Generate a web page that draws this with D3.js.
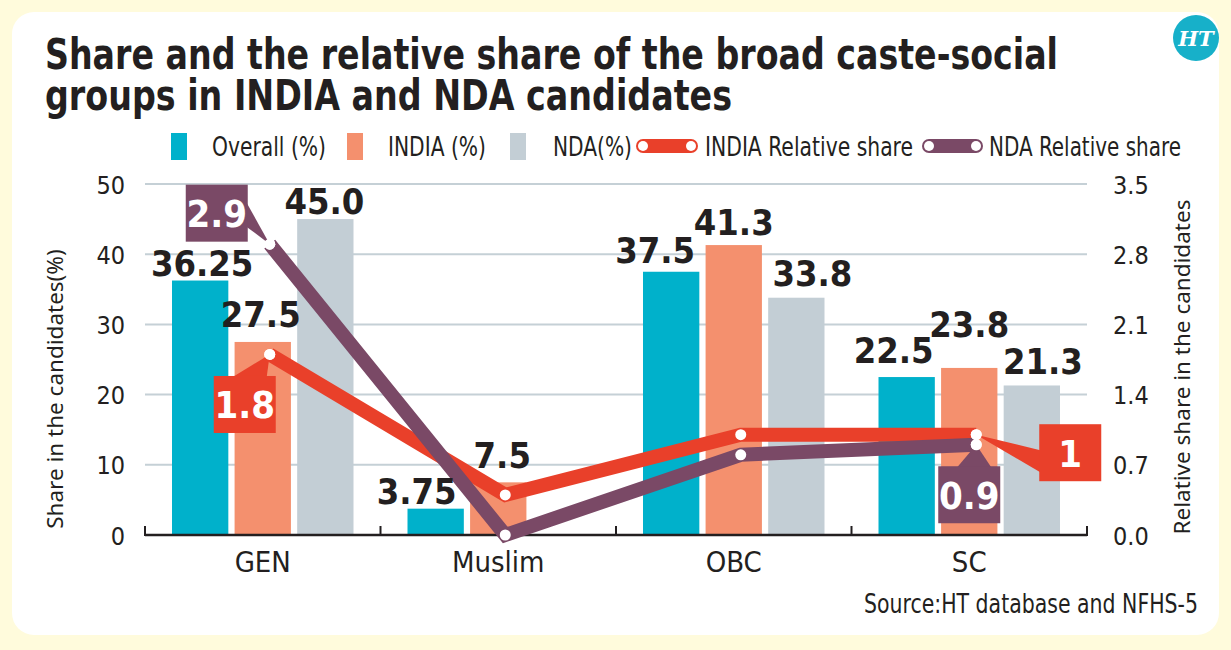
<!DOCTYPE html>
<html>
<head>
<meta charset="utf-8">
<script src="https://cdn.jsdelivr.net/npm/d3@7"></script>
<style>
    body { margin: 0; background: #fffbdc; }
    svg text { font-family: "DejaVu Sans Condensed", sans-serif; fill: #231f20; }
</style>
</head>
<body>
<div id="chart"></div>
<script>
// data
var categories = ["GEN", "Muslim", "OBC", "SC"];
var seriesNames = ["Overall (%)", "INDIA (%)", "NDA(%)"];
var overallShare = [36.25, 3.75, 37.5, 22.5];
var indiaShare = [27.5, 7.5, 41.3, 23.8];
var ndaShare = [45.0, 0, 33.8, 21.3];
var indiaRelative = [1.8, 0.4, 1.0, 1.0];
var ndaRelative = [2.9, 0.0, 0.8, 0.9];
var leftTicks = [0, 10, 20, 30, 40, 50];
var rightTicks = [0, 0.7, 1.4, 2.1, 2.8, 3.5];

function init() {
    var w = 1231;
    var h = 650;
    var barColors = ["#00b1cb", "#f4906e", "#c3ced5"];
    var indiaRed = "#e9402a";
    var ndaPurple = "#7a4966";

    // label nudges so numbers dodge the lines, [dx, dy] per bar
    var labelNudge = [
        [[2, 0], [-19, 0], [-16, -4], [-13, -9]],
        [[-2, -10], [4, -9], [0, -5], [0, -26]],
        [[-1, 0], [0, 0], [16, -7], [11, -6]]
    ];

    var svg = d3.select("#chart")
        .append("svg")
        .attr("width", w)
        .attr("height", h);

    svg.append("rect")
        .attr("x", 12).attr("y", 12)
        .attr("width", 1207).attr("height", 623)
        .attr("rx", 22)
        .attr("fill", "#ffffff");

    // title
    svg.append("text")
        .attr("x", 45).attr("y", 69)
        .attr("textLength", 1013).attr("lengthAdjust", "spacingAndGlyphs")
        .style("font-size", "43px").style("font-weight", "bold")
        .text("Share and the relative share of the broad caste-social");
    svg.append("text")
        .attr("x", 45).attr("y", 110)
        .attr("textLength", 687).attr("lengthAdjust", "spacingAndGlyphs")
        .style("font-size", "43px").style("font-weight", "bold")
        .text("groups in INDIA and NDA candidates");

    // HT logo
    svg.append("circle")
        .attr("cx", 1196).attr("cy", 38).attr("r", 23)
        .attr("fill", "#17b0c9");
    svg.append("text")
        .attr("x", 1196).attr("y", 46)
        .attr("text-anchor", "middle")
        .style("font-family", "'DejaVu Serif', serif")
        .style("font-style", "italic").style("font-weight", "bold")
        .style("font-size", "21px").style("fill", "#fff")
        .text("HT");

    // legend
    var legend = svg.append("g").attr("class", "legend");
    var swatchX = [171, 347, 510];
    var textX = [212, 388, 553];
    var textW = [114, 98, 79];
    seriesNames.forEach(function(name, i) {
        legend.append("rect")
            .attr("x", swatchX[i]).attr("y", 133)
            .attr("width", 16).attr("height", 27)
            .attr("fill", barColors[i]);
        legend.append("text")
            .attr("x", textX[i]).attr("y", 156)
            .attr("textLength", textW[i]).attr("lengthAdjust", "spacingAndGlyphs")
            .style("font-size", "26px")
            .text(name);
    });
    var lineLegend = [
        { name: "INDIA Relative share", color: indiaRed, x1: 643, x2: 691, tx: 705, tw: 208 },
        { name: "NDA Relative share", color: ndaPurple, x1: 929, x2: 976, tx: 989, tw: 192 }
    ];
    lineLegend.forEach(function(d) {
        legend.append("line")
            .attr("x1", d.x1).attr("x2", d.x2)
            .attr("y1", 146).attr("y2", 146)
            .attr("stroke", d.color).attr("stroke-width", 14)
            .attr("stroke-linecap", "round");
        [d.x1, d.x2].forEach(function(cx) {
            legend.append("circle")
                .attr("cx", cx).attr("cy", 146).attr("r", 5)
                .attr("fill", "#fff");
        });
        legend.append("text")
            .attr("x", d.tx).attr("y", 156)
            .attr("textLength", d.tw).attr("lengthAdjust", "spacingAndGlyphs")
            .style("font-size", "26px")
            .text(d.name);
    });

    // scales
    var x0 = d3.scaleBand()
        .domain(categories)
        .range([145, 1087])
        .paddingInner(0)
        .paddingOuter(0);

    var x1 = d3.scaleBand()
        .domain([0, 1, 2])
        .range([27, x0.bandwidth() - 27])
        .paddingInner(0.1);

    var yScale = d3.scaleLinear()
        .domain([0, 50])
        .range([535, 184]);

    var y2Scale = d3.scaleLinear()
        .domain([0, 3.5])
        .range([535, 184]);

    // grid
    svg.append("g")
        .attr("class", "grid")
        .selectAll("line")
        .data(leftTicks.slice(1))
        .enter()
        .append("line")
        .attr("x1", 145).attr("x2", 1087)
        .attr("y1", function(d) { return yScale(d); })
        .attr("y2", function(d) { return yScale(d); })
        .attr("stroke", "#c5d0d6")
        .attr("stroke-width", 2);

    // axes
    var yAxis = d3.axisLeft(yScale).tickValues(leftTicks).tickSize(0).tickPadding(20);
    var gy = svg.append("g")
        .attr("class", "y axis")
        .attr("transform", "translate(145,0)")
        .call(yAxis);
    gy.select(".domain").remove();
    gy.selectAll("text").style("font-size", "25px").attr("dy", "0.36em");

    var y2Axis = d3.axisRight(y2Scale).tickValues(rightTicks)
        .tickFormat(d3.format(".1f")).tickSize(0).tickPadding(26);
    var gy2 = svg.append("g")
        .attr("class", "y2 axis")
        .attr("transform", "translate(1087,0)")
        .call(y2Axis);
    gy2.select(".domain").remove();
    gy2.selectAll("text").style("font-size", "25px").attr("dy", "0.36em");

    svg.append("text")
        .attr("transform", "translate(63,389) rotate(-90)")
        .attr("text-anchor", "middle")
        .style("font-family", "'Noto Sans', sans-serif")
        .style("font-size", "22.5px")
        .text("Share in the candidates(%)");

    svg.append("text")
        .attr("transform", "translate(1190,367) rotate(-90)")
        .attr("text-anchor", "middle")
        .style("font-family", "'Noto Sans', sans-serif")
        .style("font-size", "22.5px")
        .text("Relative share in the candidates");

    // bars
    var shares = [overallShare, indiaShare, ndaShare];
    var formats = [String, String, function(d) { return d.toFixed(1); }];
    var bars = svg.append("g").attr("class", "bars");
    shares.forEach(function(values, s) {
        bars.selectAll(".bar-" + s)
            .data(values)
            .enter()
            .append("rect")
            .attr("class", "bar-" + s)
            .attr("x", function(d, i) { return x0(categories[i]) + x1(s); })
            .attr("y", function(d) { return yScale(d); })
            .attr("width", x1.bandwidth())
            .attr("height", function(d) { return yScale(0) - yScale(d); })
            .attr("fill", barColors[s]);
    });

    // bottom axis
    var xAxis = d3.axisBottom(x0).tickSize(0).tickPadding(16);
    var gx = svg.append("g")
        .attr("class", "x axis")
        .attr("transform", "translate(0,535)")
        .call(xAxis);
    gx.select(".domain").remove();
    gx.selectAll("text").style("font-size", "29px");

    var bounds = categories.map(function(c) { return x0(c); }).concat([x0.range()[1]]);
    svg.append("line")
        .attr("x1", 145).attr("x2", 1087)
        .attr("y1", 535).attr("y2", 535)
        .attr("stroke", "#231f20").attr("stroke-width", 2.5);
    svg.append("g")
        .selectAll("line")
        .data(bounds)
        .enter()
        .append("line")
        .attr("x1", function(d) { return d; })
        .attr("x2", function(d) { return d; })
        .attr("y1", 536).attr("y2", 526)
        .attr("stroke", "#231f20").attr("stroke-width", 2);

    // relative share lines
    var lineX = function(i) { return x0(categories[i]) + x0.bandwidth() / 2 + 7; };
    var line = d3.line()
        .x(function(d, i) { return lineX(i); })
        .y(function(d) { return y2Scale(d); });

    var rel = [
        { values: indiaRelative, color: indiaRed },
        { values: ndaRelative, color: ndaPurple }
    ];
    rel.forEach(function(r) {
        svg.append("path")
            .datum(r.values)
            .attr("d", line)
            .attr("fill", "none")
            .attr("stroke", r.color)
            .attr("stroke-width", 14);
    });
    rel.forEach(function(r) {
        svg.append("g")
            .selectAll("circle")
            .data(r.values)
            .enter()
            .append("circle")
            .attr("cx", function(d, i) { return lineX(i); })
            .attr("cy", function(d) { return y2Scale(d); })
            .attr("r", 5.5)
            .attr("fill", "#fff");
    });

    // bar value labels (skip empty bars)
    shares.forEach(function(values, s) {
        var items = values.map(function(v, i) { return { v: v, i: i }; })
            .filter(function(d) { return d.v > 0; });
        svg.append("g")
            .selectAll("text")
            .data(items)
            .enter()
            .append("text")
            .attr("x", function(d) {
                return x0(categories[d.i]) + x1(s) + x1.bandwidth() / 2 + labelNudge[s][d.i][0];
            })
            .attr("y", function(d) { return yScale(d.v) - 5 + labelNudge[s][d.i][1]; })
            .attr("text-anchor", "middle")
            .style("font-weight", "bold")
            .style("font-size", "36px")
            .text(function(d) { return formats[s](d.v); });
    });

    // callouts for the relative share values
    var callouts = [
        { values: indiaRelative, i: 0, color: indiaRed, dx: -25, dy: 50, edge: "top", at: 0.58, base: 34 },
        { values: ndaRelative, i: 0, color: ndaPurple, dx: -53, dy: -31, edge: "right", at: 0.53, base: 24 },
        { values: indiaRelative, i: 3, color: indiaRed, dx: 94, dy: 18, edge: "left", at: 0.65, base: 22 },
        { values: ndaRelative, i: 3, color: ndaPurple, dx: -7, dy: 50, edge: "top", at: 0.58, base: 34 }
    ];
    var bw = 62, bh = 57;
    callouts.forEach(function(c) {
        var px = lineX(c.i);
        var py = y2Scale(c.values[c.i]);
        var bx = px + c.dx - bw / 2;
        var by = py + c.dy - bh / 2;
        var p1, p2;
        if (c.edge === "top") {
            p1 = [bx + bw * c.at - c.base / 2, by + 1];
            p2 = [bx + bw * c.at + c.base / 2, by + 1];
        } else if (c.edge === "left") {
            p1 = [bx + 1, by + bh * c.at - c.base / 2];
            p2 = [bx + 1, by + bh * c.at + c.base / 2];
        } else {
            p1 = [bx + bw - 1, by + bh * c.at - c.base / 2];
            p2 = [bx + bw - 1, by + bh * c.at + c.base / 2];
        }
        svg.append("path")
            .attr("d", "M" + p1 + "L" + [px, py] + "L" + p2 + "Z")
            .attr("fill", c.color);
        svg.append("circle")
            .attr("cx", px).attr("cy", py).attr("r", 5.5)
            .attr("fill", "#fff");
        svg.append("rect")
            .attr("x", bx).attr("y", by)
            .attr("width", bw).attr("height", bh)
            .attr("fill", c.color);
        svg.append("text")
            .attr("x", bx + bw / 2).attr("y", by + bh / 2 + 14)
            .attr("text-anchor", "middle")
            .style("font-weight", "bold")
            .style("font-size", "38px")
            .style("fill", "#fff")
            .text(c.values[c.i]);
    });

    svg.append("text")
        .attr("x", 1198).attr("y", 613)
        .attr("text-anchor", "end")
        .attr("textLength", 334).attr("lengthAdjust", "spacingAndGlyphs")
        .style("font-size", "26px")
        .text("Source:HT database and NFHS-5");
}

window.onload = init;
</script>
</body>
</html>
